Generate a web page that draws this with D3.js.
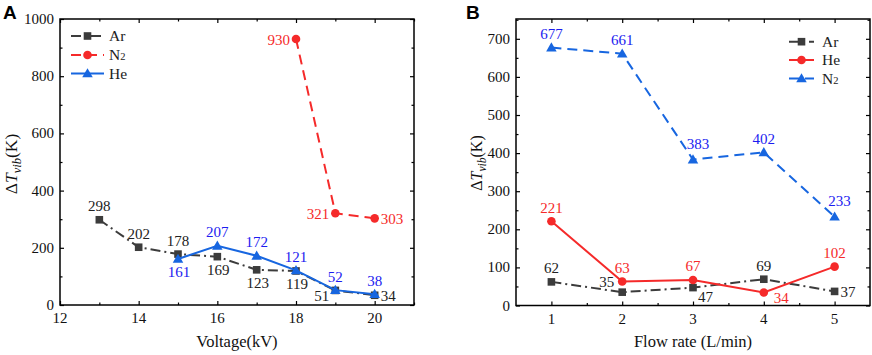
<!DOCTYPE html>
<html><head><meta charset="utf-8">
<script src="https://cdn.jsdelivr.net/npm/d3@7"></script>
<style>body{margin:0;background:#fff}</style>
</head><body><svg id="c" width="872" height="355" font-family="'Liberation Serif', 'Times New Roman', serif"></svg>
<script>
// Panel A data
const voltA = [13,14,15,16,17,18,19,20];
const arA = [298,202,178,169,123,119,51,34];
const n2AX = [18,19,20];
const n2A = [930,321,303];
const heAX = [15,16,17,18,19,20];
const heA = [161,207,172,121,52,38];
const xTicksA = [12,14,16,18,20];
const yTicksA = [0,200,400,600,800,1000];
// label placement codes
const arAPos = ["t","t","t","b","b","b","bl","r"];
const n2APos = ["l","l","r"];
const heAPos = ["b","t","t","t","t","t"];

// Panel B data
const flowB = [1,2,3,4,5];
const arB = [62,35,47,69,37];
const heB = [221,63,67,34,102];
const n2B = [677,661,383,402,233];
const xTicksB = [1,2,3,4,5];
const yTicksB = [0,100,200,300,400,500,600,700];
const arBPos = ["t","tl","br","t","r"];
const heBPos = ["t","t","t","br2","t"];
const n2BPos = ["t","t","tr","t","tr"];

const SERIF = "Liberation Serif";
const C = {ar:"#3c3c3c", red:"#f52a2a", blueLine:"#1766e0", blueText:"#1c1cf0"};
const svg = d3.select("#c");

function panel(o){
  const g = svg.append("g");
  const x = d3.scaleLinear().domain(o.xd).range([o.l,o.r]);
  const y = d3.scaleLinear().domain(o.yd).range([o.b,o.t]);
  const mk = (axis, tr, vals, len) => g.append("g").attr("transform",tr)
     .call(axis.tickValues(vals).tickSize(len).tickFormat(""))
     .call(s=>{s.select(".domain").remove(); s.selectAll("line").attr("stroke","#000").attr("stroke-width",1.2);});
  mk(d3.axisTop(x), `translate(0,${o.b})`, o.xt, 4);
  mk(d3.axisTop(x), `translate(0,${o.b})`, o.xm, 2.5);
  mk(d3.axisBottom(x), `translate(0,${o.t})`, o.xt, 4);
  mk(d3.axisBottom(x), `translate(0,${o.t})`, o.xm, 2.5);
  mk(d3.axisRight(y), `translate(${o.l},0)`, o.yt, 4);
  mk(d3.axisRight(y), `translate(${o.l},0)`, o.ym, 2.5);
  mk(d3.axisLeft(y), `translate(${o.r},0)`, o.yt, 4);
  mk(d3.axisLeft(y), `translate(${o.r},0)`, o.ym, 2.5);
  g.append("rect").attr("x",o.l).attr("y",o.t).attr("width",o.r-o.l).attr("height",o.b-o.t)
    .attr("fill","none").attr("stroke","#000").attr("stroke-width",1.5);
  g.selectAll(".xl").data(o.xt).join("text").attr("font-family",SERIF).attr("x",d=>x(d)).attr("y",o.b+18)
    .attr("text-anchor","middle").attr("font-size",15).attr("fill","#111").text(d=>d);
  g.selectAll(".yl").data(o.yt).join("text").attr("font-family",SERIF).attr("x",o.l-6).attr("y",d=>y(d)+5)
    .attr("text-anchor","end").attr("font-size",15).attr("fill","#111").text(d=>d);
  g.append("text").attr("font-family",SERIF).attr("x",(o.l+o.r)/2).attr("y",347).attr("text-anchor","middle")
    .attr("font-size",16.5).attr("fill","#111").text(o.xTitle);
  const fs = o.yfs, sub = fs*0.72;
  const yt = g.append("text").attr("font-family",SERIF).attr("transform",`translate(${o.yx},${o.yc}) rotate(-90)`)
    .attr("text-anchor","middle").attr("font-size",fs).attr("fill","#111");
  yt.append("tspan").text("Δ");
  yt.append("tspan").attr("font-style","italic").text("T");
  yt.append("tspan").attr("font-style","italic").attr("font-size",sub).attr("dy",fs*0.25).text("vib");
  yt.append("tspan").attr("dy",-fs*0.25).text("(K)");
  svg.append("text").attr("x",o.px).attr("y",19).attr("font-family","Liberation Sans")
    .attr("font-weight","bold").attr("font-size",19).text(o.name);
  return {g,x,y};
}

function marker(g, type, cx, cy, color){
  if(type==="sq") g.append("rect").attr("x",cx-3.8).attr("y",cy-3.8).attr("width",7.6).attr("height",7.6).attr("fill",color);
  else if(type==="ci") g.append("circle").attr("cx",cx).attr("cy",cy).attr("r",4.3).attr("fill",color);
  else g.append("path").attr("d",d3.symbol().type(d3.symbolTriangle).size(48)()).attr("transform",`translate(${cx},${cy+0.8})`).attr("fill",color);
}

function series(P, xs, ys, s){
  const line = d3.line().x(d=>P.x(d[0])).y(d=>P.y(d[1]));
  const pts = xs.map((v,i)=>[v,ys[i]]);
  P.g.append("path").attr("d",line(pts)).attr("fill","none").attr("stroke",s.color)
    .attr("stroke-width",2).attr("stroke-dasharray",s.dash||null);
  pts.forEach(p=>marker(P.g,s.mk,P.x(p[0]),P.y(p[1]),s.color));
  pts.forEach((p,i)=>{
    const cx=P.x(p[0]), cy=P.y(p[1]), pos=s.pos[i];
    let dx=0, dy=0, anc="middle";
    if(pos==="t"){dy=-8.5;}
    else if(pos==="tr"){dx=5; dy=-11;}
    else if(pos==="b"){dx=1; dy=18.5;}
    else if(pos==="l"){dx=-6; dy=6; anc="end";}
    else if(pos==="r"){dx=6; dy=6; anc="start";}
    else if(pos==="bl"){dx=-6; dy=11; anc="end";}
    else if(pos==="br"){dx=5; dy=14.5; anc="start";}
    else if(pos==="br2"){dx=10; dy=10.5; anc="start";}
    else if(pos==="tl"){dx=-8; dy=-5; anc="end";}
    P.g.append("text").attr("font-family",SERIF).attr("x",cx+dx).attr("y",cy+dy).attr("text-anchor",anc)
      .attr("font-size",15).attr("fill",s.text).text(p[1]);
  });
}

function legend(g, items, x0, x1, tx, ys){
  items.forEach((it,i)=>{
    g.append("line").attr("x1",x0).attr("x2",x1).attr("y1",ys[i]).attr("y2",ys[i])
      .attr("stroke",it.color).attr("stroke-width",2).attr("stroke-dasharray",it.dash||null);
    marker(g,it.mk,(x0+x1)/2,ys[i],it.color);
    const t=g.append("text").attr("font-family",SERIF).attr("x",tx).attr("y",ys[i]+5).attr("font-size",15.5).attr("fill","#222");
    if(it.label==="N2"){t.append("tspan").text("N");t.append("tspan").attr("font-size",10.5).text("2");}
    else t.text(it.label);
  });
}

const dashAr="10,4,2,4", dashN2="10,6";

const A = panel({name:"A", px:3, l:60, r:414, t:19, b:305, xd:[12,21], yd:[0,1000],
  xt:xTicksA, xm:[13,15,17,19,21], yt:yTicksA, ym:[100,300,500,700,900], xTitle:"Voltage(kV)",
  yx:17, yc:164, yfs:17.5});
series(A, voltA, arA, {color:C.ar, text:"#222", mk:"sq", dash:dashAr, pos:arAPos});
series(A, n2AX, n2A, {color:C.red, text:C.red, mk:"ci", dash:dashN2, pos:n2APos});
series(A, heAX, heA, {color:C.blueLine, text:C.blueText, mk:"tr", pos:heAPos});
legend(A.g, [{label:"Ar",color:C.ar,mk:"sq",dash:dashAr},{label:"N2",color:C.red,mk:"ci",dash:dashN2},{label:"He",color:C.blueLine,mk:"tr"}],
  71,104,109,[36,55,73.5]);

const B = panel({name:"B", px:466, l:516, r:870, t:19, b:305.5, xd:[0.5,5.5], yd:[0,752],
  xt:xTicksB, xm:[1.5,2.5,3.5,4.5], yt:yTicksB, ym:[50,150,250,350,450,550,650,750], xTitle:"Flow rate (L/min)",
  yx:482, yc:163, yfs:16});
series(B, flowB, arB, {color:C.ar, text:"#222", mk:"sq", dash:dashAr, pos:arBPos});
series(B, flowB, heB, {color:C.red, text:C.red, mk:"ci", pos:heBPos});
series(B, flowB, n2B, {color:C.blueLine, text:C.blueText, mk:"tr", dash:dashN2, pos:n2BPos});
legend(B.g, [{label:"Ar",color:C.ar,mk:"sq",dash:dashAr},{label:"He",color:C.red,mk:"ci"},{label:"N2",color:C.blueLine,mk:"tr",dash:dashN2}],
  789,814,822,[41.7,60,78.5]);
</script></body></html>
